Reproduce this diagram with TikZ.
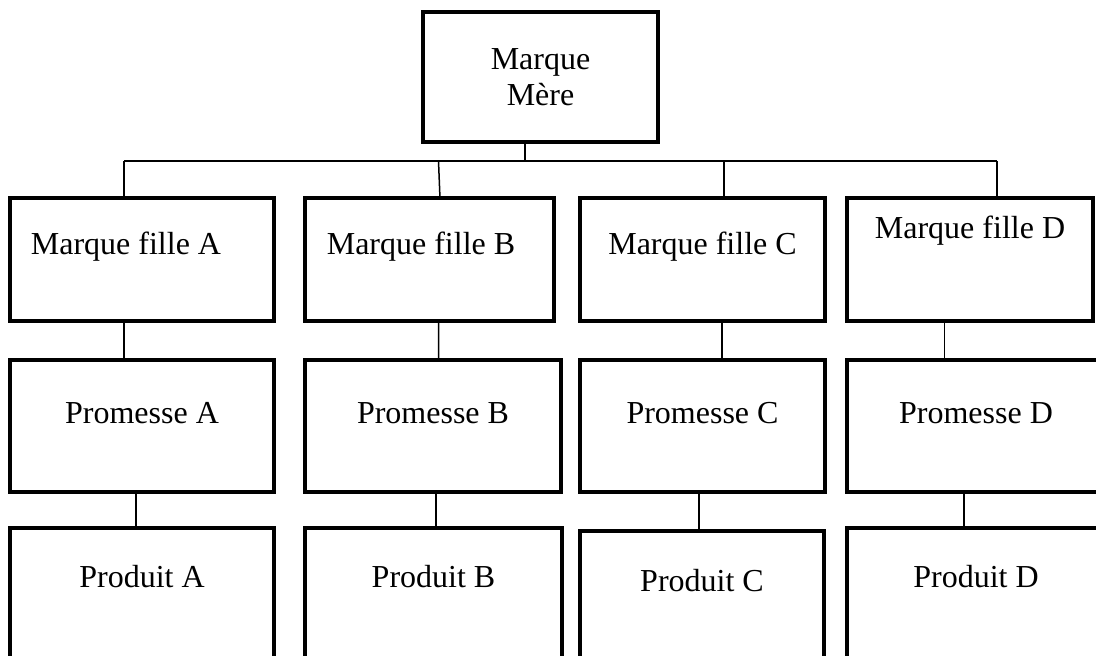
\documentclass[tikz,border=0pt]{standalone}
\usepackage{fontspec}
\setmainfont{Liberation Serif}
\usetikzlibrary{positioning}
\tikzstyle{block}=[draw,fill=white,rectangle,line width=2pt,inner sep=0pt]
\tikzstyle{every node}=[font=\fontsize{16pt}{18pt}\selectfont]
\tikzstyle{link}=[line width=0.75pt]
\tikzset{lift/.style={text height=11.2pt,text depth=#1}}

\begin{document}
\begin{tikzpicture}[x=0.5pt,y=-0.5pt]
            \useasboundingbox (0,0) rectangle (1096,655);
            \clip (0,0) rectangle (1096,655);
            % marque mere
            \node[block, align=center, minimum width=117.5pt, minimum height=65pt] (mere) at (540.5,77) {Marque\\Mère};
            % marques filles
            \node[block, lift=16.1pt, minimum width=132pt, minimum height=61.5pt] (fA) at (142,259.5) {Marque fille A\hspace*{16pt}};
            \node[block, lift=16.1pt, minimum width=124.5pt, minimum height=61.5pt, right=13.5pt of fA] (fB) {Marque fille B\hspace*{8.5pt}};
            \node[block, lift=16.1pt, minimum width=122.5pt, minimum height=61.5pt, right=11pt of fB] (fC) {Marque fille C};
            \node[block, lift=32.1pt, minimum width=123pt, minimum height=61.5pt, right=9pt of fC] (fD) {Marque fille D};
            % promesses
            \node[block, lift=13.6pt, minimum width=132pt, minimum height=66pt, below=17.5pt of fA.south west, anchor=north west] (pA) {Promesse A};
            \node[block, lift=13.6pt, minimum width=128pt, minimum height=66pt, below=17.5pt of fB.south west, anchor=north west] (pB) {Promesse B};
            \node[block, lift=13.6pt, minimum width=122.5pt, minimum height=66pt, below=17.5pt of fC.south west, anchor=north west] (pC) {Promesse C};
            \node[block, lift=13.6pt, minimum width=135pt, minimum height=66pt, below=17.5pt of fD.south west, anchor=north west] (pD) {Promesse D\hspace*{6pt}};
            % produits
            \node[block, lift=17.6pt, minimum width=132pt, minimum height=66pt, below=16pt of pA.south west, anchor=north west] (rA) {Produit A};
            \node[block, lift=17.6pt, minimum width=128.5pt, minimum height=66pt, below=16pt of pB.south west, anchor=north west] (rB) {Produit B};
            \node[block, lift=16.6pt, minimum width=122pt, minimum height=66pt, below=17.5pt of pC.south west, anchor=north west] (rC) {Produit C};
            \node[block, lift=17.6pt, minimum width=135pt, minimum height=66pt, below=16pt of pD.south west, anchor=north west] (rD) {Produit D\hspace*{6pt}};
            % bus
            \coordinate (bus) at ([xshift=-7.75pt,yshift=-8.5pt]mere.south);
            \coordinate (dA) at ([xshift=-9pt]fA.north);
            \coordinate (dB) at ([xshift=4.5pt]fB.north);
            \coordinate (dC) at ([xshift=10.75pt]fC.north);
            \coordinate (dD) at ([xshift=13.5pt]fD.north);
            \draw[link] ([xshift=-7.75pt]mere.south) -- (bus);
            \draw[link] (dA |- bus) -- (dD |- bus);
            \draw[link] (dA |- bus) -- (dA);
            \draw[link] (dB |- bus) -- ([xshift=0.7pt]dB);
            \draw[link] (dC |- bus) -- (dC);
            \draw[link] (dD |- bus) -- (dD);
            % filles -> promesses
            \draw[link] ([xshift=-9pt]fA.south) -- ([xshift=-9pt]pA.north);
            \draw[link] ([xshift=4.5pt]fB.south) -- ([xshift=2.8pt]pB.north);
            \draw[link] ([xshift=9.75pt]fC.south) -- ([xshift=9.75pt]pC.north);
            \draw[link] ([xshift=-12.7pt]fD.south) -- ([xshift=-18.7pt]pD.north);
            % promesses -> produits
            \draw[link] ([xshift=-3pt]pA.south) -- ([xshift=-3pt]rA.north);
            \draw[link] ([xshift=1.5pt]pB.south) -- ([xshift=1.25pt,yshift=-2pt]rB.north);
            \draw[link] ([xshift=-1.75pt]pC.south) -- ([xshift=-1.5pt]rC.north);
            \draw[link] ([xshift=-9pt,yshift=2pt]pD.south) -- ([xshift=-9pt]rD.north);
        \end{tikzpicture}
\end{document}
